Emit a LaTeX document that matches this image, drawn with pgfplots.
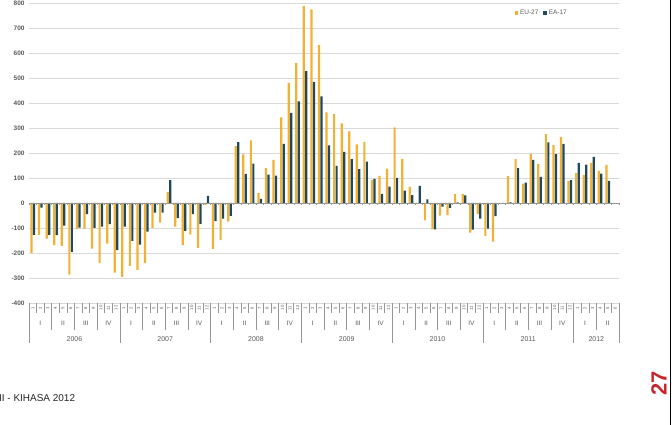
\documentclass[border=0pt]{standalone}
\usepackage{pgfplots}
\usepackage{pgfplotstable}
\pgfplotsset{compat=1.18}
\usepackage{fontspec}
\setmainfont{Liberation Sans}

\definecolor{eu}{RGB}{242,177,52}
\definecolor{ea}{RGB}{31,73,94}
\definecolor{txt}{RGB}{89,89,89}
\definecolor{sep}{RGB}{150,150,150}
\definecolor{pagenum}{RGB}{200,38,45}

% Monthly change, Jan 2006 - May 2012 (thousands)
\pgfplotstableread{
m  eu   ea
1  -200 -128
2  -128 -19
3  -143 -128
4  -169 -129
5  -172 -91
6  -287 -196
7  -105 -99
8  -103 -45
9  -183 -100
10 -241 -95
11 -163 -85
12 -279 -189
13 -296 -95
14 -252 -152
15 -268 -167
16 -241 -115
17 -100 -39
18 -79  -39
19 44   91
20 -95  -61
21 -169 -112
22 -127 -45
23 -180 -84
24 -8   28
25 -184 -73
26 -149 -63
27 -75  -52
28 228  244
29 195  116
30 251  157
31 39   16
32 139  113
33 172  109
34 343  237
35 481  361
36 560  407
37 788  528
38 775  485
39 632  427
40 363  231
41 356  148
42 319  205
43 287  175
44 235  135
45 245  165
46 92   96
47 108  36
48 137  65
49 303  100
50 177  49
51 64   31
52 -3   68
53 -70  14
54 -106 -106
55 -51  -15
56 -49  -20
57 36   2
58 36   30
59 -119 -107
60 -45  -63
61 -132 -103
62 -155 -53
63 0    -3
64 107  2
65 177  139
66 77   81
67 197  172
68 155  104
69 276  243
70 232  196
71 264  237
72 88   91
73 119  160
74 112  153
75 160  185
76 128  117
77 152  88
}\datatable

\begin{document}
\begin{tikzpicture}
\useasboundingbox (0,0) rectangle (672bp,425bp);
\clip (0,0) rectangle (672bp,425bp);

\begin{axis}[
  at={(29bp,122bp)}, anchor=south west,
  scale only axis, width=590bp, height=300bp,
  xmin=0.5, xmax=78.5, ymin=-400, ymax=800,
  ytick={-400,-300,...,800},
  xtick=\empty,
  ymajorgrids,
  grid style={draw=gray!30, line width=0.6bp},
  axis line style={draw=none},
  major tick length=0pt,
  yticklabel style={font=\fontsize{6.5}{7}\selectfont\bfseries, text=txt, xshift=-1bp},
  /pgf/number format/assume math mode=true,
  ybar=0.3bp, bar width=2.2bp,
  clip=false,
  legend style={at={(0.869,0.967)}, anchor=center, draw=none, fill=none,
    font=\fontsize{6.5}{7}\selectfont, text=txt, inner sep=0pt,
    /tikz/every even column/.append style={column sep=3bp}},
  legend columns=2,
  legend image code/.code={\fill[#1] (0bp,-1.7bp) rectangle (3.4bp,1.7bp);},
]
\addplot[fill=eu, draw=none] table[x=m, y=eu] {\datatable};
\addplot[fill=ea, draw=none] table[x=m, y=ea] {\datatable};
\legend{EU-27, EA-17}
\end{axis}

% category axis at zero (y = 0 sits 100bp above the axis bottom) with month ticks
\draw[sep, line width=0.6bp] (29bp,222bp) -- (619bp,222bp);
\foreach \m in {0,...,78}
  \draw[sep, line width=0.4bp] ({29bp+\m*7.5641bp},222bp) -- ++(0,-2bp);

% multi-level category labels: month / quarter / year
\foreach \m in {0,...,78}
  \draw[sep, line width=0.5bp] ({29bp+\m*7.5641bp},122bp) -- ++(0,-10bp);
\foreach \m in {0,3,...,78}
  \draw[sep, line width=0.5bp] ({29bp+\m*7.5641bp},122bp) -- ++(0,-27bp);
\foreach \m in {0,12,...,72,78}
  \draw[sep, line width=0.5bp] ({29bp+\m*7.5641bp},122bp) -- ++(0,-40bp);

\foreach \m in {1,...,78}{
  \pgfmathtruncatemacro\k{mod(\m-1,12)+1}
  \node[rotate=90, inner sep=0pt, text=txt, font=\fontsize{4.3}{5}\selectfont]
    at ({29bp+(\m-0.5)*7.5641bp},117bp) {\k};
}
\foreach \q in {0,...,25}{
  \pgfmathtruncatemacro\k{mod(\q,4)+1}
  \node[inner sep=0pt, text=txt, font=\fontsize{6.5}{7}\selectfont]
    at ({29bp+(3*\q+1.5)*7.5641bp},102bp) {\ifcase\k\or I\or II\or III\or IV\fi};
}
\foreach \y/\c in {2006/6,2007/18,2008/30,2009/42,2010/54,2011/66,2012/75}
  \node[inner sep=0pt, text=txt, font=\fontsize{7}{8}\selectfont]
    at ({29bp+\c*7.5641bp},86bp) {\y};

% page footer
\node[anchor=base west, inner sep=0pt, font=\fontsize{10}{12}\selectfont, text=black!85]
  at (-1bp,24bp) {II - KIHASA 2012};
\node[rotate=90, inner sep=0pt, font=\fontsize{22}{24}\selectfont\bfseries, text=pagenum]
  at (659bp,42bp) {27};
\draw[line width=1.5bp] (670.5bp,0) -- (670.5bp,425bp);
\end{tikzpicture}
\end{document}
